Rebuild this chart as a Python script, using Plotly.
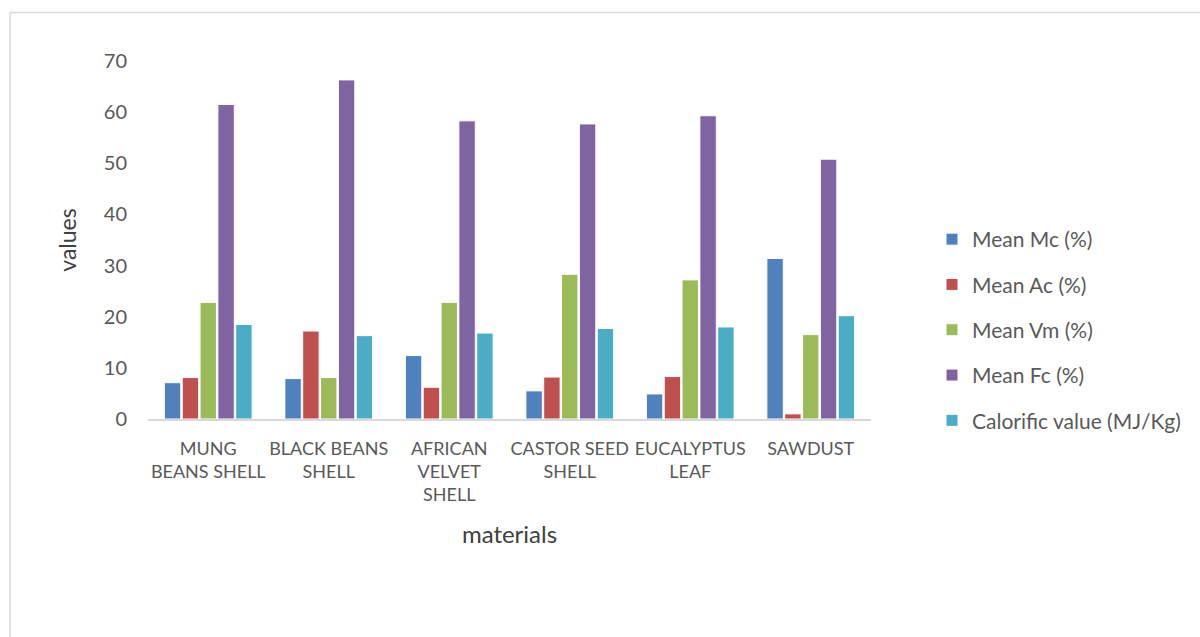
import plotly.graph_objects as go

categories = ["MUNG<br>BEANS SHELL", "BLACK BEANS<br>SHELL", "AFRICAN<br>VELVET<br>SHELL",
              "CASTOR SEED<br>SHELL", "EUCALYPTUS<br>LEAF", "SAWDUST"]
mean_mc = [7.1, 7.9, 12.4, 5.5, 4.9, 31.4]
mean_ac = [8.1, 17.2, 6.2, 8.2, 8.3, 1.0]
mean_vm = [22.8, 8.1, 22.8, 28.3, 27.2, 16.5]
mean_fc = [61.5, 66.3, 58.3, 57.7, 59.3, 50.8]
calorific = [18.5, 16.3, 16.8, 17.7, 18.0, 20.2]

series_names = ["Mean Mc (%)", "Mean Ac (%)", "Mean Vm (%)", "Mean Fc (%)", "Calorific value (MJ/Kg)"]
series_values = [mean_mc, mean_ac, mean_vm, mean_fc, calorific]
colors = ["#4F81BD", "#C0504D", "#9BBB59", "#8064A2", "#4BACC6"]

FONT = "Lato, Open Sans, sans-serif"
GRAY = "#595959"

fig = go.Figure()
for i, (name, vals, col) in enumerate(zip(series_names, series_values, colors)):
    fig.add_trace(go.Bar(
        x=categories, y=vals, name=name,
        marker=dict(color=col, line=dict(color="white", width=1)),
        legendgroup=f"g{i}",
    ))

L, R, T, B = 148, 329, 61, 218
W, H = 1200, 637
pw = W - L - R
ph = H - T - B

def px_x(p):
    return (p - L) / pw

def px_y(p):
    return (H - B - p) / ph

fig.update_layout(
    width=W, height=H,
    margin=dict(l=L, r=R, t=T, b=B),
    paper_bgcolor="white", plot_bgcolor="white",
    barmode="group", bargap=0.26, bargroupgap=0.08,
    font=dict(family=FONT, color=GRAY, size=16),
    xaxis=dict(
        showline=True, linecolor="#D9D9D9", linewidth=2,
        ticks="", showgrid=False, ticklabelstandoff=12,
        tickfont=dict(size=18, color=GRAY, family=FONT),
        title=dict(text="materials", font=dict(size=24, color="#404040", family=FONT), standoff=22),
    ),
    yaxis=dict(
        range=[0, 70], dtick=10, showgrid=False, zeroline=False,
        showline=False, ticks="", ticklabelstandoff=20,
        tickfont=dict(size=20, color=GRAY, family=FONT),
        title=dict(text="values", font=dict(size=23, color="#404040", family=FONT), standoff=20),
    ),
    legend=dict(
        x=px_x(932), xanchor="left", y=px_y(330), yanchor="middle",
        font=dict(size=21, color=GRAY, family=FONT),
        tracegroupgap=15, itemwidth=30,
        bgcolor="rgba(0,0,0,0)",
    ),
    showlegend=True,
    shapes=[
        dict(type="line", xref="paper", yref="paper",
             x0=px_x(10), x1=px_x(1205), y0=px_y(12.5), y1=px_y(12.5),
             line=dict(color="#D9D9D9", width=1.5)),
        dict(type="line", xref="paper", yref="paper",
             x0=px_x(10), x1=px_x(10), y0=px_y(12.5), y1=px_y(650),
             line=dict(color="#D9D9D9", width=1.5)),
    ],
)

fig.write_html("out.html")
